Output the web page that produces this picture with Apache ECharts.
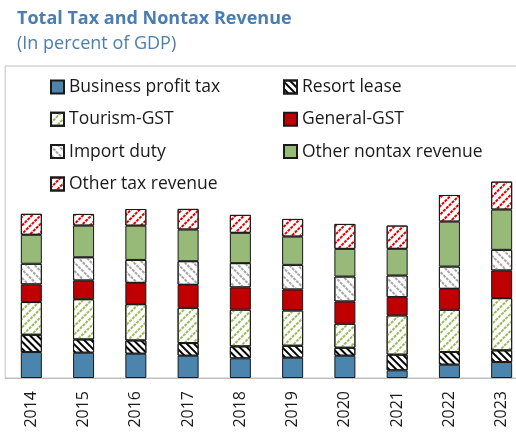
<!DOCTYPE html>
<html>
<head>
<meta charset="utf-8">
<script src="https://cdn.jsdelivr.net/npm/echarts@6/dist/echarts.min.js"></script>
<style>
html,body{margin:0;padding:0;background:#fff;}
#c{width:516px;height:432px;}
</style>
</head>
<body>
<div id="c"></div>
<script>
var years = ['2014','2015','2016','2017','2018','2019','2020','2021','2022','2023'];
var businessProfitTax = [4.16, 4.05, 3.89, 3.57, 3.15, 3.25, 3.57, 1.23, 2.13, 2.56];
var resortLease       = [2.77, 2.13, 2.13, 2.03, 1.92, 1.92, 1.28, 2.51, 2.03, 1.87];
var tourismGST        = [5.24, 6.45, 5.81, 5.65, 5.88, 5.65, 3.84, 6.29, 6.77, 8.37];
var generalGST        = [2.83, 2.99, 3.41, 3.68, 3.57, 3.36, 3.57, 2.93, 3.36, 4.43];
var importDuty        = [3.31, 3.73, 3.68, 3.79, 3.89, 3.95, 4.00, 3.47, 3.57, 3.31];
var otherNontax       = [4.64, 5.07, 5.49, 5.07, 4.85, 4.53, 4.43, 4.27, 7.20, 6.45];
var otherTax          = [3.36, 1.87, 2.67, 3.31, 2.88, 2.83, 4.00, 3.73, 4.27, 4.48];

var chart = echarts.init(document.getElementById('c'), null, {renderer:'canvas'});

function stripe(color, rot, on, off, dx) {
  return {symbol:'rect', symbolSize:1, color:color, backgroundColor:null,
          dashArrayX:dx || [1,0], dashArrayY:[on, off], rotation:rot};
}
var border = {borderColor:'#1a1a1a', borderWidth:1};
function ser(name, data, style) {
  return {name:name, type:'bar', stack:'total', data:data, barWidth:21,
          itemStyle:Object.assign({}, border, style), emphasis:{disabled:true}};
}

var series = [
  ser('Business profit tax', businessProfitTax, {color:'#4b85ae'}),
  ser('Resort lease', resortLease, {color:'#ffffff', decal:stripe('#000000', Math.PI/4, 1.6, 2.6)}),
  ser('Tourism-GST', tourismGST, {color:'#ffffff', decal:stripe('#9bbb59', -Math.PI/4, 1.5, 4, [[3,1]])}),
  ser('General-GST', generalGST, {color:'#c00000'}),
  ser('Import duty', importDuty, {color:'#ffffff', decal:stripe('#a6a6a6', Math.PI/4, 1.5, 4, [[3,1]])}),
  ser('Other nontax revenue', otherNontax, {color:'#97ba78'}),
  ser('Other tax revenue', otherTax, {color:'#ffffff', decal:stripe('#e00000', -Math.PI/4, 2, 4, [[3,1]])})
];

var legendText = {fontFamily:'Open Sans', fontSize:17.5, color:'#1a1a1a', lineHeight:20};
chart.setOption({
  animation:false,
  title:[
    {text:'Total Tax and Nontax Revenue', left:12, top:5,
     textStyle:{fontFamily:'Open Sans', fontWeight:'bold', fontSize:18, color:'#4a7eb1'}},
    {text:'(In percent of GDP)', left:12, top:30,
     textStyle:{fontFamily:'Open Sans', fontWeight:'normal', fontSize:18, color:'#4a7eb1'}}
  ],
  legend:[
    {data:['Business profit tax','Tourism-GST','Import duty','Other tax revenue'],
     orient:'vertical', left:50, top:77, padding:0, icon:'rect', itemWidth:13, itemHeight:13, itemGap:12.3,
     textStyle:legendText, selectedMode:false},
    {data:['Resort lease','General-GST','Other nontax revenue'],
     orient:'vertical', left:283, top:77, padding:0, icon:'rect', itemWidth:13, itemHeight:13, itemGap:12.3,
     textStyle:legendText, selectedMode:false}
  ],
  grid:{left:5.2, top:66, width:522.6, bottom:54, outerBoundsMode:'none', containLabel:false,
        show:true, borderColor:'#c0c0c0', borderWidth:1, backgroundColor:'transparent'},
  xAxis:{type:'category', data:years,
    axisLine:{lineStyle:{color:'#bfbfbf', width:1}}, axisTick:{show:false},
    axisLabel:{rotate:90, margin:13, fontFamily:'Open Sans', fontSize:16, color:'#1a1a1a'}},
  yAxis:{type:'value', min:0, max:50, show:false, splitLine:{show:false}},
  series:series
});
</script>
</body>
</html>
